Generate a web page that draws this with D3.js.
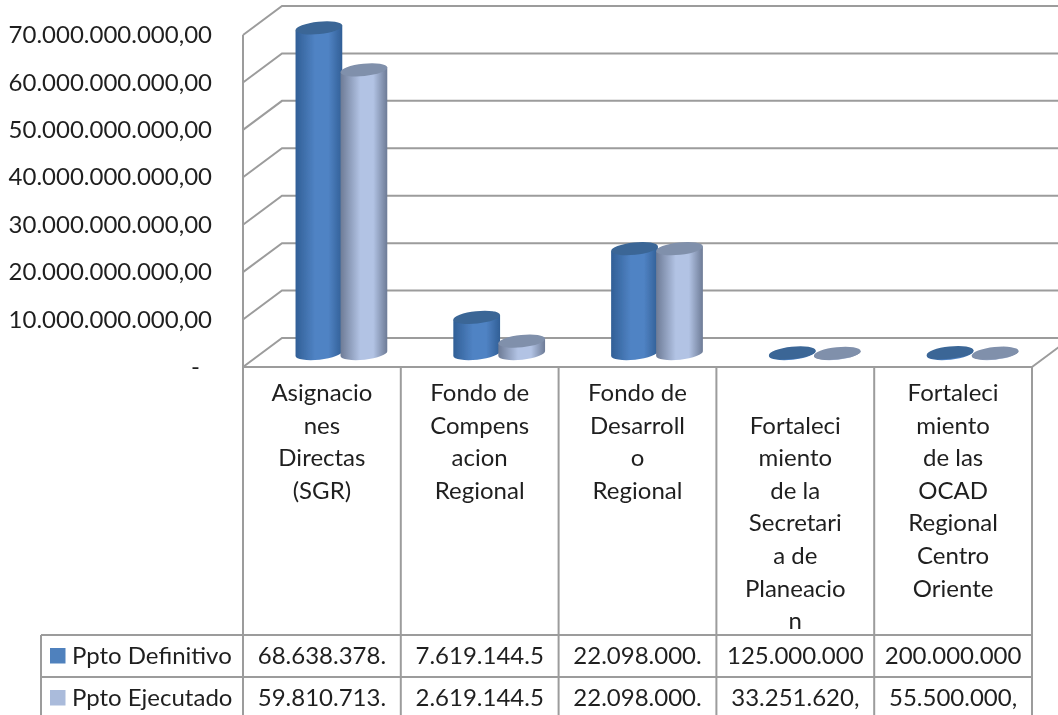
<!DOCTYPE html>
<meta charset="utf-8">
<style>
  body { margin: 0; background: #fff; overflow: hidden; }
  text { font-family: Lato, "Open Sans", sans-serif; fill: #1f1f1f; }
</style>
<script src="https://d3js.org/d3.v7.min.js"></script>

<svg id="chart" width="1058" height="715"></svg>

<script>

// Data
var categories = ["Asignaciones Directas (SGR)", "Fondo de Compensacion Regional", "Fondo de Desarrollo Regional",
  "Fortalecimiento de la Secretaria de Planeacion", "Fortalecimiento de las OCAD Regional Centro Oriente"];
var categoryLines = [
  ["Asignacio", "nes", "Directas", "(SGR)"],
  ["Fondo de", "Compens", "acion", "Regional"],
  ["Fondo de", "Desarroll", "o", "Regional"],
  ["", "Fortaleci", "miento", "de la", "Secretari", "a de", "Planeacio", "n"],
  ["Fortaleci", "miento", "de las", "OCAD", "Regional", "Centro", "Oriente"]
];
var seriesNames = ["Ppto Definitivo", "Ppto Ejecutado"];
var pptoDefinitivo = [68638378000, 7619144500, 22098000000, 125000000, 200000000];
var pptoEjecutado = [59810713000, 2619144500, 22098000000, 33251620, 55500000];
var definitivoCells = ["68.638.378.", "7.619.144.5", "22.098.000.", "125.000.000", "200.000.000"];
var ejecutadoCells = ["59.810.713.", "2.619.144.5", "22.098.000.", "33.251.620,", "55.500.000,"];
var yTicks = [0, 1e10, 2e10, 3e10, 4e10, 5e10, 6e10, 7e10];

// Layout
var svg = d3.select("#chart");
var fontSize = 24, gridColor = "#9c9c9c";
var depthX = 39, depthY = -29;
var floorY = 367, topY = 35, rowY = [635, 677], tableLeft = 41;

var x = d3.scaleBand().domain(d3.range(categories.length)).range([243, 1032]);
var y = d3.scaleLinear().domain([0, 7e10]).range([floorY, topY]);
var inner = d3.scaleBand().domain([0, 1]).range([-45, 45]);

var esLocale = d3.formatLocale({decimal: ",", thousands: ".", grouping: [3], currency: ["", ""]});
var money = esLocale.format(",.2f");

var defs = svg.append("defs");
defs.append("filter").attr("id", "soft")
  .attr("filterUnits", "userSpaceOnUse").attr("x", 0).attr("y", 0).attr("width", 1058).attr("height", 715)
  .append("feGaussianBlur").attr("stdDeviation", 0.45);

function addGradient(id, edge, mid) {
  var g = defs.append("linearGradient").attr("id", id);
  g.append("stop").attr("offset", "0%").attr("stop-color", edge);
  g.append("stop").attr("offset", "42%").attr("stop-color", mid);
  g.append("stop").attr("offset", "70%").attr("stop-color", mid);
  g.append("stop").attr("offset", "100%").attr("stop-color", edge);
}
addGradient("bar0", "#315f96", "#5083c4");
addGradient("bar1", "#6d7b96", "#b2c3e4");

var series = [
  {values: pptoDefinitivo, fill: "url(#bar0)", top: "#3a6696", key: "#4f81bd", cells: definitivoCells},
  {values: pptoEjecutado, fill: "url(#bar1)", top: "#8090ab", key: "#aabbdb", cells: ejecutadoCells}
];

var marks = svg.append("g").attr("filter", "url(#soft)");

// Walls: gridlines on the back plane, slanted steps on the left wall, floor
var grid = marks.append("g").attr("fill", "none").attr("stroke", gridColor).attr("stroke-width", 2);
yTicks.forEach(function(t) {
  var p = d3.path();
  p.moveTo(x.range()[0], y(t));
  p.lineTo(x.range()[0] + depthX, y(t) + depthY);
  p.lineTo(x.range()[1] + depthX, y(t) + depthY);
  grid.append("path").attr("d", p.toString());
});
grid.append("line").attr("x1", 243).attr("x2", 243).attr("y1", topY).attr("y2", floorY);
grid.append("line").attr("x1", 1032).attr("x2", 1032 + depthX).attr("y1", floorY).attr("y2", floorY + depthY);

// Cylinders stand half way into the depth
var rx = 23.5, ry = 6.2, tilt = 6;
var cosT = Math.cos(tilt * Math.PI / 180), sinT = Math.sin(tilt * Math.PI / 180);

series.forEach(function(s, si) {
  var bar = marks.append("g").selectAll("g").data(s.values).enter().append("g");

  function cx(d, i) { return x(i) + x.bandwidth() / 2 + depthX / 2 + inner(si) + inner.bandwidth() / 2; }
  function shift(v) { return y(v) + depthY / 2 + 1; }

  bar.append("path")
    .attr("fill", s.fill)
    .attr("d", function(d, i) {
      var c = cx(d, i), b = shift(0), t = shift(d);
      var dx = rx * cosT, dy = rx * sinT;
      return "M" + (c - dx) + "," + (b + dy) +
        "A" + rx + "," + ry + " " + (-tilt) + " 0 0 " + (c + dx) + "," + (b - dy) +
        "L" + (c + dx) + "," + (t - dy) + "L" + (c - dx) + "," + (t + dy) + "Z";
    });

  bar.append("ellipse")
    .attr("fill", s.top)
    .attr("rx", rx).attr("ry", ry)
    .attr("transform", function(d, i) {
      return "translate(" + cx(d, i) + "," + shift(d) + ") rotate(" + (-tilt) + ")";
    });
});

// Data table lines
var table = marks.append("g").attr("stroke", gridColor).attr("stroke-width", 2);
var bandEdges = d3.range(categories.length + 1).map(function(i) {
  return i < categories.length ? x(i) : x.range()[1];
});
table.selectAll(".col").data(bandEdges).enter().append("line")
  .attr("x1", function(d) { return d; }).attr("x2", function(d) { return d; })
  .attr("y1", floorY).attr("y2", 715);
table.append("line").attr("x1", 243).attr("x2", 1032).attr("y1", floorY).attr("y2", floorY);
table.selectAll(".row").data(rowY).enter().append("line")
  .attr("x1", tableLeft).attr("x2", 1032)
  .attr("y1", function(d) { return d; }).attr("y2", function(d) { return d; });
table.append("line").attr("x1", tableLeft).attr("x2", tableLeft).attr("y1", rowY[0]).attr("y2", 715);

// Value axis labels
var yAxis = d3.axisLeft(y)
  .tickValues(yTicks)
  .tickSize(0)
  .tickPadding(0)
  .tickFormat(function(d) { return d === 0 ? "-" : money(d); });
var axisG = svg.append("g").attr("transform", "translate(212,0)").call(yAxis);
axisG.select(".domain").remove();
axisG.attr("font-family", null);
axisG.selectAll("text").style("font-size", fontSize + "px")
  .attr("x", function(d) { return d === 0 ? -12 : 0; });

// Category labels
var lineStep = 32.6, firstBaseline = 401;
categoryLines.forEach(function(lines, i) {
  svg.append("text")
    .attr("text-anchor", "middle")
    .style("font-size", fontSize + "px")
    .selectAll("tspan").data(lines).enter().append("tspan")
      .attr("x", x(i) + x.bandwidth() / 2)
      .attr("y", function(d, j) { return firstBaseline + j * lineStep; })
      .text(function(d) { return d; });
});

// Table rows with legend keys
series.forEach(function(s, si) {
  var mid = rowY[0] + 20.5 + si * 42;
  svg.append("rect").attr("x", 50).attr("y", mid - 7.5).attr("width", 15.5).attr("height", 15.5).attr("fill", s.key);
  svg.append("text").attr("x", 72).attr("y", mid + 8).style("font-size", fontSize + "px").text(seriesNames[si]);
  svg.selectAll(".cell" + si).data(s.cells).enter().append("text")
    .attr("x", function(d, i) { return x(i) + x.bandwidth() / 2; })
    .attr("y", mid + 8)
    .attr("text-anchor", "middle")
    .style("font-size", fontSize + "px")
    .text(function(d) { return d; });
});

</script>
